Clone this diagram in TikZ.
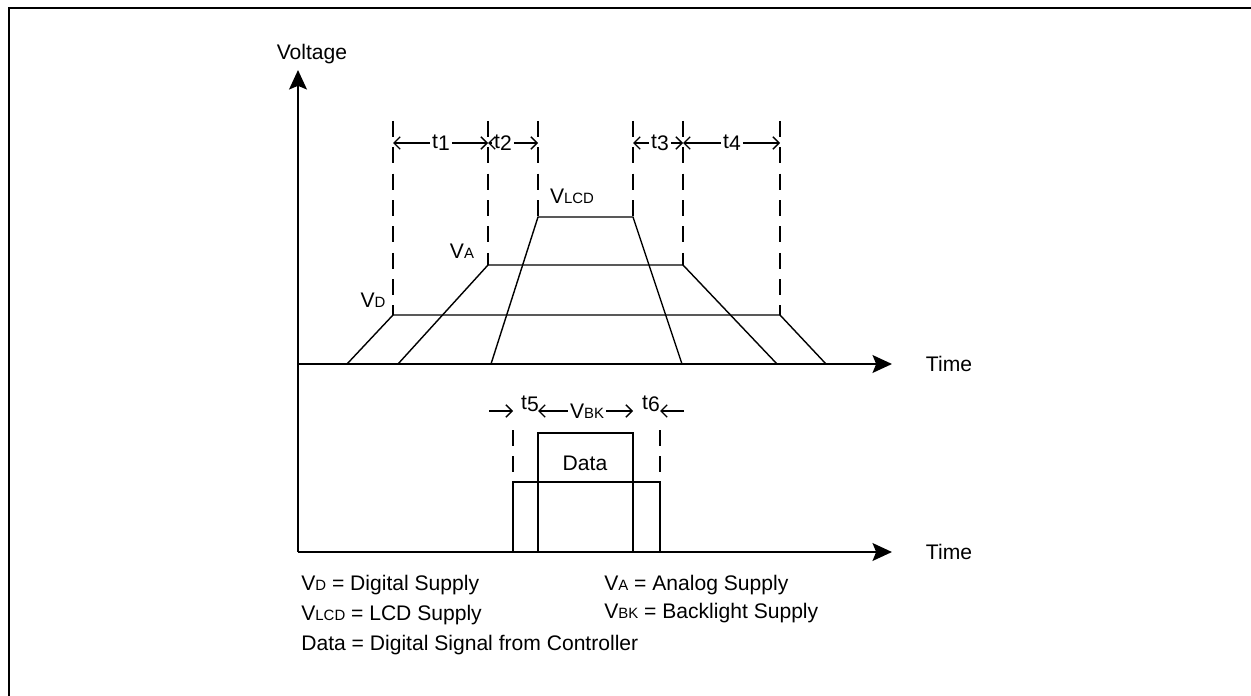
\documentclass[tikz,border=0pt]{standalone}
\usepackage{fontspec}
\setmainfont{Liberation Sans}
\usetikzlibrary{arrows.meta}
\newcommand{\lo}[1]{{\fontsize{8.5}{10}\selectfont #1}}
\newcommand{\tn}[1]{t\raisebox{-1pt}{#1}}

\begin{document}
\begin{tikzpicture}[
  x=0.02cm,y=-0.02cm,
  font=\fontsize{12}{14}\selectfont,
  frame/.style={line width=1.1pt},
  axis/.style={line width=1.7pt,-{Stealth[length=11pt,width=10pt,inset=2pt]}},
  wave/.style={line width=0.8pt},
  guide/.style={line width=0.9pt,dash pattern=on 9pt off 6pt},
  dim/.style={line width=0.8pt,-{Straight Barb[length=3.5pt,width=7pt]}},
  lbl/.style={inner sep=1pt},
  lgd/.style={anchor=west,inner sep=0pt}
]
\useasboundingbox (0,0) rectangle (1251,696);
\draw[frame] (9,696) -- (9,8) -- (1251,8);

% axes
\draw[axis] (298,552) -- (298,70);
\draw[axis] (298,364) -- (892,364);
\draw[axis] (298,552) -- (892,552);
\node (volt)  at (312,54)  {Voltage};
\node (time1) at (949,364) {Time};
\node (time2) at (949,552) {Time};

% dashed guides
\draw[guide] (393,121) -- (393,315);
\draw[guide] (488,121) -- (488,265);
\draw[guide] (538,121) -- (538,217);
\draw[guide] (633,121) -- (633,217);
\draw[guide] (683,121) -- (683,265);
\draw[guide] (780,121) -- (780,315);

% supplies
\draw[wave] (347,364) -- (393,315) -- (780,315) -- (826,364);
\draw[wave] (398,364) -- (488,265) -- (683,265) -- (777,364);
\draw[wave] (491,364) -- (538,217) -- (633,217) -- (682,364);
\node (vd)   at (373,300) {V\lo{D}};
\node (va)   at (462,251) {V\lo{A}};
\node (vlcd) at (572,196) {V\lo{LCD}};

% t1 .. t4
\foreach \n/\x in {a/393,b/488,c/538,d/633,e/683,f/780}
  \coordinate (\n) at (\x,143);
\node[lbl] (t1) at (441,143) {\tn1};
\node[lbl] (t2) at (503,143) {\tn2};
\node[lbl] (t3) at (660,143) {\tn3};
\node[lbl] (t4) at (732,143) {\tn4};
\draw[dim] (t1) -- (a);
\draw[dim] (t1) -- (b);
\draw[dim] (t2) -- (b);
\draw[dim] (t2) -- (c);
\draw[dim] (t3) -- (d);
\draw[dim] (t3) -- (e);
\draw[dim] (t4) -- (e);
\draw[dim] (t4) -- (f);

% backlight and data
\draw[guide] (513,430) -- (513,482);
\draw[guide] (660,430) -- (660,482);
\draw[wave] (513,552) -- (513,482) -- (660,482) -- (660,552);
\draw[wave] (538,552) -- (538,433) -- (633,433) -- (633,552);
\node (data) at (585,463) {Data};

\foreach \n/\x in {p/489,q/513,r/538,s/633,u/660,w/684}
  \coordinate (\n) at (\x,411);
\node[lbl] (t5)  at (530,404) {\tn5};
\node[lbl] (vbk) at (587,411) {V\lo{BK}};
\node[lbl] (t6)  at (651,404) {\tn6};
\draw[dim] (p) -- (q);
\draw[dim] (vbk) -- (r);
\draw[dim] (vbk) -- (s);
\draw[dim] (w) -- (u);

% legend
\node[lgd] (lvd)   at (301,585) {V\lo{D} = Digital Supply};
\node[lgd] (lva)   at (604,585) {V\lo{A} = Analog Supply};
\node[lgd] (lvlcd) at (301,615) {V\lo{LCD} = LCD Supply};
\node[lgd] (lvbk)  at (604,613) {V\lo{BK} = Backlight Supply};
\node[lgd] (ldata) at (301,645) {Data = Digital Signal from Controller};
\end{tikzpicture}
\end{document}
